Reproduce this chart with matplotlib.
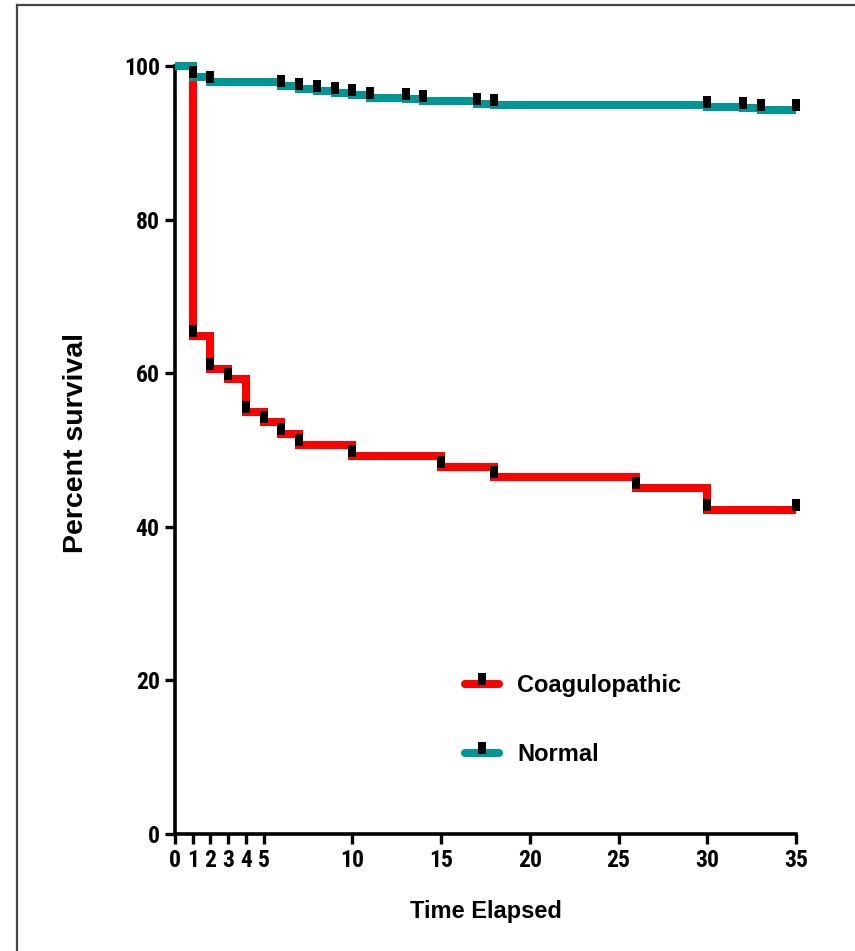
import numpy as np
import matplotlib
matplotlib.use("Agg")
import matplotlib.pyplot as plt
from matplotlib.path import Path
from matplotlib.lines import Line2D
from matplotlib import font_manager

# ---------------- data ----------------
coag_times = [0, 1, 2, 3, 4, 5, 6, 7, 10, 15, 18, 26, 30, 35]
coag_surv = [100, 64.8, 60.5, 59.2, 55.0, 53.6, 52.1, 50.7, 49.2, 47.8, 46.5, 45.0, 42.2, 42.2]
coag_censor = [1, 2, 3, 4, 5, 6, 7, 10, 15, 18, 26, 30, 35]

norm_times = [0, 1, 2, 6, 7, 8, 9, 10, 11, 13, 14, 17, 18, 30, 32, 33, 35]
norm_surv = [100, 98.6, 97.9, 97.4, 97.0, 96.7, 96.5, 96.2, 95.8, 95.7, 95.4, 95.1, 94.9, 94.7, 94.5, 94.3, 94.3]
norm_censor = [1, 2, 6, 7, 8, 9, 10, 11, 13, 14, 17, 18, 30, 32, 33, 35]

x_ticks = [0, 1, 2, 3, 4, 5, 10, 15, 20, 25, 30, 35]
y_ticks = [0, 20, 40, 60, 80, 100]
series_names = ["Coagulopathic", "Normal"]
x_label = "Time Elapsed"
y_label = "Percent survival"

RED = "#FF0000"
TEAL = "#009696"

names = {f.name for f in font_manager.fontManager.ttflist}
narrow = None
for cand in ["Liberation Sans Narrow", "Arial Narrow", "DejaVu Sans Condensed", "Roboto Condensed",
             "Open Sans Condensed"]:
    if cand in names:
        narrow = cand
        break
narrow_list = [narrow, "Liberation Sans"] if narrow else ["Liberation Sans"]
tick_size = 17 if narrow else 15.5

def surv_at(times, surv, t):
    i = np.searchsorted(times, t, side="right") - 1
    return surv[i]

# censor marker: small bar sitting on top of the line
mark = Path([(-0.36, -0.1), (0.36, -0.1), (0.36, 1.0), (-0.36, 1.0), (-0.36, -0.1)],
            [Path.MOVETO, Path.LINETO, Path.LINETO, Path.LINETO, Path.CLOSEPOLY])
MS = 15.5

fig = plt.figure(figsize=(8.55, 9.51), dpi=100)
ax = fig.add_axes([175 / 855, 1 - 834 / 951, (796 - 175) / 855, (834 - 66) / 951])

lw = 5.8
for times, surv, cens, color, z in [(coag_times, coag_surv, coag_censor, RED, 3),
                                    (norm_times, norm_surv, norm_censor, TEAL, 4)]:
    ax.step(times, surv, where="post", color=color, lw=lw, clip_on=False, zorder=z,
            solid_joinstyle="miter", solid_capstyle="butt")
    cy = [surv_at(times, surv, t) for t in cens]
    ax.plot(cens, cy, linestyle="none", marker=mark, markersize=MS, color="black",
            markeredgewidth=0, clip_on=False, zorder=z + 0.5)

ax.set_xlim(0, 35)
ax.set_ylim(0, 100)
for s in ["top", "right"]:
    ax.spines[s].set_visible(False)
for s in ["left", "bottom"]:
    ax.spines[s].set_linewidth(2.6)
    ax.spines[s].set_zorder(2)
ax.set_xticks(x_ticks)
ax.set_yticks(y_ticks)
ax.tick_params(direction="out", length=7, width=2.4, pad=4)
for lab in ax.get_xticklabels() + ax.get_yticklabels():
    lab.set_fontfamily(narrow_list)
    lab.set_fontweight("bold")
    lab.set_fontsize(tick_size)

ax.set_xlabel(x_label, fontfamily="Liberation Sans", fontweight="bold", fontsize=17, labelpad=20)
ax.set_ylabel(y_label, fontfamily="Liberation Sans", fontweight="bold", fontsize=20.5)
ax.yaxis.set_label_coords(-0.139, 0.509)

handles = [Line2D([], [], color=RED, lw=lw, solid_capstyle="round", marker=mark, markersize=MS,
                  markerfacecolor="black", markeredgewidth=0),
           Line2D([], [], color=TEAL, lw=lw, solid_capstyle="round", marker=mark, markersize=MS,
                  markerfacecolor="black", markeredgewidth=0)]
leg = ax.legend(handles, series_names, loc="upper left",
                bbox_to_anchor=(465 / 855, 1 - 674 / 951), bbox_transform=fig.transFigure,
                frameon=False, handlelength=1.45, handletextpad=0.75, labelspacing=1.95,
                borderpad=0, borderaxespad=0, numpoints=1,
                prop={"family": "Liberation Sans", "weight": "bold", "size": 17})

# outer frame (partially visible)
fig.add_artist(Line2D([17 / 855, 17 / 855], [0, 1 - 5 / 951], transform=fig.transFigure,
                      color="#444444", lw=1.6))
fig.add_artist(Line2D([17 / 855, 1], [1 - 5 / 951, 1 - 5 / 951], transform=fig.transFigure,
                      color="#444444", lw=1.6))

fig.savefig("out.png", dpi=100)
